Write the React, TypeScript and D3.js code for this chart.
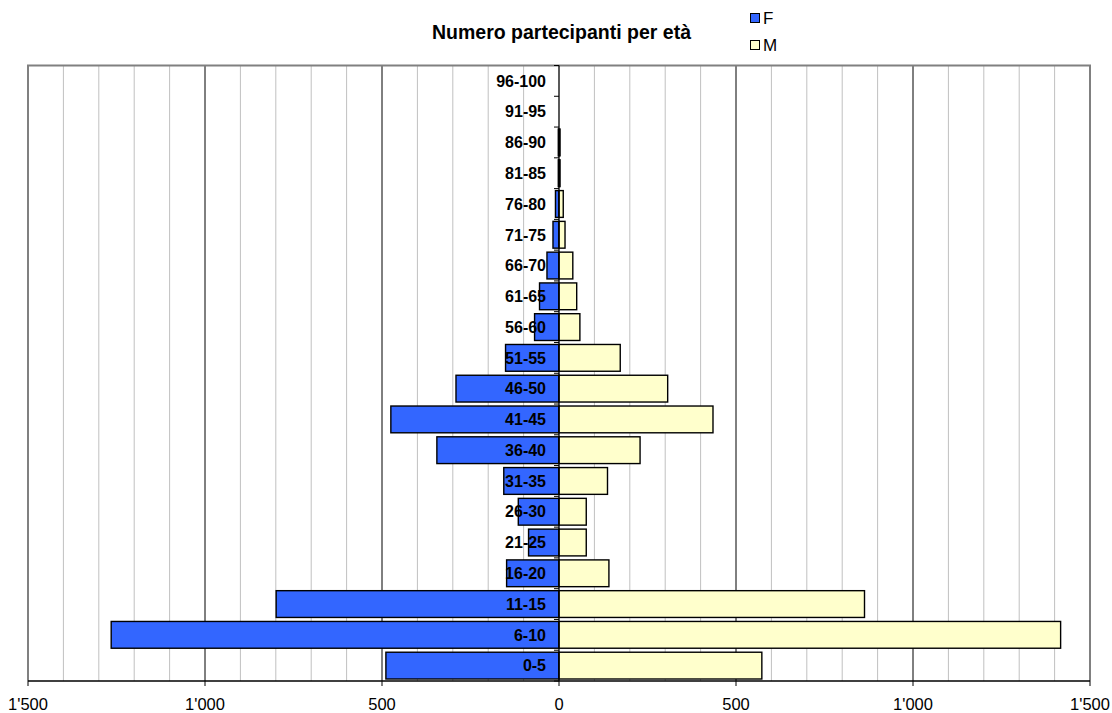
import * as d3 from "d3";
import * as React from "react";

// age groups, bottom to top
const ageGroups = [
  "0-5", "6-10", "11-15", "16-20", "21-25", "26-30", "31-35", "36-40", "41-45", "46-50",
  "51-55", "56-60", "61-65", "66-70", "71-75", "76-80", "81-85", "86-90", "91-95", "96-100",
];
const femmine = [489, 1265, 799, 148, 86, 115, 156, 345, 475, 291, 151, 69, 55, 34, 17, 10, 2, 2, 0, 0];
const maschi = [573, 1417, 863, 141, 77, 77, 137, 229, 435, 307, 173, 59, 50, 39, 17, 12, 3, 3, 0, 0];
const tickValues = [-1500, -1000, -500, 0, 500, 1000, 1500];

const W = 1112;
const H = 713;
const margin = { top: 65.5, right: 22, bottom: 32, left: 28 };
const font = "'Liberation Sans', Arial, sans-serif";

const fmt = (v: number) => d3.format(",")(Math.abs(v)).replace(/,/g, "'");

export default function App() {
  const x = d3
    .scaleLinear()
    .domain([-1500, 1500])
    .range([margin.left, W - margin.right]);
  const y = d3
    .scaleBand()
    .domain(ageGroups.slice().reverse())
    .range([margin.top, H - margin.bottom])
    .paddingInner(0.13)
    .paddingOuter(0.065);

  const y0 = margin.top;
  const y1 = H - margin.bottom;
  const step = y.step();
  const minor = d3.range(-1400, 1500, 100).filter((v) => v % 500 !== 0);
  const major = [-1000, -500, 500, 1000];
  // category boundaries for the little ticks on the zero axis
  const bounds = d3.range(ageGroups.length + 1).map((i) => y0 + i * step);

  return (
    <div style={{ position: "absolute", left: 0, top: 0 }}>
      <svg width={W} height={H} style={{ display: "block", fontFamily: font }}>
        <rect x={0} y={0} width={W} height={H} fill="#fff" />

        {/* grid */}
        {minor.map((v) => (
          <line key={"m" + v} x1={x(v)} x2={x(v)} y1={y0} y2={y1} stroke="#c0c0c0" strokeWidth={1} />
        ))}
        {major.map((v) => (
          <line key={"M" + v} x1={x(v)} x2={x(v)} y1={y0} y2={y1} stroke="#000" strokeWidth={1} />
        ))}

        {/* plot border */}
        <path
          d={`M${x(-1500)},${y1}V${y0}H${x(1500)}V${y1}`}
          fill="none"
          stroke="#808080"
          strokeWidth={2}
        />

        {/* bars */}
        {ageGroups.map((g, i) => (
          <g key={g}>
            <rect
              x={x(-femmine[i])}
              y={y(g)}
              width={x(0) - x(-femmine[i])}
              height={y.bandwidth()}
              fill="#3366ff"
              stroke="#000"
              strokeWidth={1.4}
            />
            <rect
              x={x(0)}
              y={y(g)}
              width={x(maschi[i]) - x(0)}
              height={y.bandwidth()}
              fill="#ffffcc"
              stroke="#000"
              strokeWidth={1.4}
            />
          </g>
        ))}

        {/* vertical axis at zero */}
        <line x1={x(0)} x2={x(0)} y1={y0} y2={y1} stroke="#000" strokeWidth={1.3} />
        {bounds.map((b, i) => (
          <line key={"t" + i} x1={x(0) - 5} x2={x(0)} y1={b} y2={b} stroke="#000" strokeWidth={1} />
        ))}

        {/* bottom axis */}
        <line x1={x(-1500)} x2={x(1500)} y1={y1} y2={y1} stroke="#000" strokeWidth={1.3} />
        {tickValues.map((v) => (
          <g key={"x" + v}>
            <line x1={x(v)} x2={x(v)} y1={y1} y2={y1 + 5} stroke="#000" strokeWidth={1} />
            <text x={x(v)} y={y1 + 29} textAnchor="middle" fontSize={16.5} fill="#000">
              {fmt(v)}
            </text>
          </g>
        ))}

        {/* category labels */}
        {ageGroups.map((g) => (
          <text
            key={"l" + g}
            x={x(0) - 13}
            y={(y(g) as number) + y.bandwidth() / 2}
            dy="0.36em"
            textAnchor="end"
            fontSize={16}
            fontWeight="bold"
            fill="#000"
          >
            {g}
          </text>
        ))}

        {/* title */}
        <text x={561.5} y={39} textAnchor="middle" fontSize={19.5} fontWeight="bold" fill="#000">
          Numero partecipanti per età
        </text>

        {/* legend */}
        <rect x={750.5} y={13.5} width={9} height={9} fill="#3366ff" stroke="#000" strokeWidth={1} />
        <text x={763} y={23.5} fontSize={17} fill="#000">F</text>
        <rect x={750.5} y={40.5} width={9} height={9} fill="#ffffcc" stroke="#000" strokeWidth={1} />
        <text x={763} y={51} fontSize={17} fill="#000">M</text>
      </svg>
    </div>
  );
}
